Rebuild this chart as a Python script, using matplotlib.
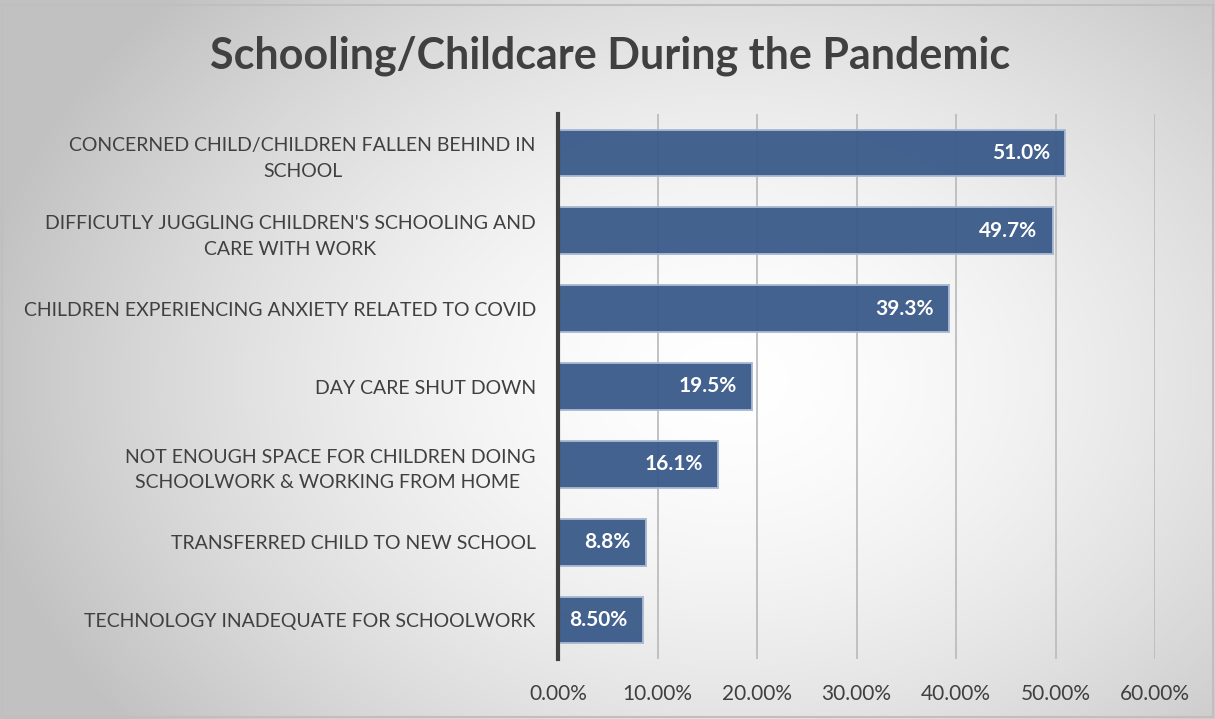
import numpy as np
import matplotlib
matplotlib.use("Agg")
import matplotlib.pyplot as plt
from matplotlib.patches import Rectangle

categories = [
    "CONCERNED CHILD/CHILDREN FALLEN BEHIND IN\nSCHOOL",
    "DIFFICUTLY JUGGLING CHILDREN'S SCHOOLING AND\nCARE WITH WORK",
    "CHILDREN EXPERIENCING ANXIETY RELATED TO COVID",
    "DAY CARE SHUT DOWN",
    "NOT ENOUGH SPACE FOR CHILDREN DOING\nSCHOOLWORK & WORKING FROM HOME ",
    "TRANSFERRED CHILD TO NEW SCHOOL",
    "TECHNOLOGY INADEQUATE FOR SCHOOLWORK",
]
values = [51.0, 49.7, 39.3, 19.5, 16.1, 8.8, 8.5]
value_labels = ["51.0%", "49.7%", "39.3%", "19.5%", "16.1%", "8.8%", "8.50%"]
xticks = [0, 10, 20, 30, 40, 50, 60]
xtick_labels = ["0.00%", "10.00%", "20.00%", "30.00%", "40.00%", "50.00%", "60.00%"]
title = "Schooling/Childcare During the Pandemic"

plt.rcParams['font.family'] = ['Lato', 'DejaVu Sans']

W, H = 1215, 719
fig = plt.figure(figsize=(W / 100, H / 100), dpi=100)

# background radial gradient
bg = fig.add_axes([0, 0, 1, 1], zorder=-10)
yy, xx = np.mgrid[0:H, 0:W]
cx, cy = 730, 380
r = np.sqrt(((xx - cx) / 760.0) ** 2 + ((yy - cy) / 560.0) ** 2)
val = np.clip(1.0 - 0.24 * r ** 1.6, 0.76, 1.0)
img = np.dstack([val, val, val])
bg.imshow(img, extent=[0, W, H, 0], aspect='auto', interpolation='bilinear')
bg.set_xlim(0, W)
bg.set_ylim(H, 0)
bg.axis('off')
bg.add_patch(Rectangle((2, 5), W - 4, H - 7, fill=False, edgecolor='#bfbfbf', linewidth=1.5))

ax = fig.add_axes([558 / W, 1 - 659 / H, (1155 - 558) / W, (659 - 114) / H])
ax.patch.set_alpha(0)

y = np.arange(len(categories))
ax.barh(y, values, height=0.6, color='#3A5A89', alpha=0.95,
        edgecolor='#a9b9d2', linewidth=1.4, zorder=3)

for yi, v, lab in zip(y, values, value_labels):
    ax.text(v - 1.5, yi, lab, ha='right', va='center', color='white',
            fontsize=15, fontweight='bold', zorder=4)

ax.set_xlim(0, 60)
ax.set_ylim(len(categories) - 0.5, -0.5)
ax.set_xticks(xticks)
ax.set_xticklabels(xtick_labels, fontsize=15)
ax.set_yticks(y)
ax.set_yticklabels(categories, multialignment='center', fontsize=14, linespacing=1.6)
ax.tick_params(axis='both', length=0, labelcolor='#404040')
ax.tick_params(axis='y', pad=16)
ax.tick_params(axis='x', pad=18)
ax.xaxis.grid(True, color='#bdbdbd', linewidth=1.3, zorder=0)
ax.set_axisbelow(True)
for s in ['top', 'right', 'bottom']:
    ax.spines[s].set_visible(False)
ax.spines['left'].set_color('#404040')
ax.spines['left'].set_linewidth(3)
ax.spines['left'].set_zorder(5)

fig.text(610 / W, 1 - 56 / H, title, ha='center', va='center',
         fontsize=31, fontweight='bold', color='#404040')

fig.savefig('out.png', dpi=100)
